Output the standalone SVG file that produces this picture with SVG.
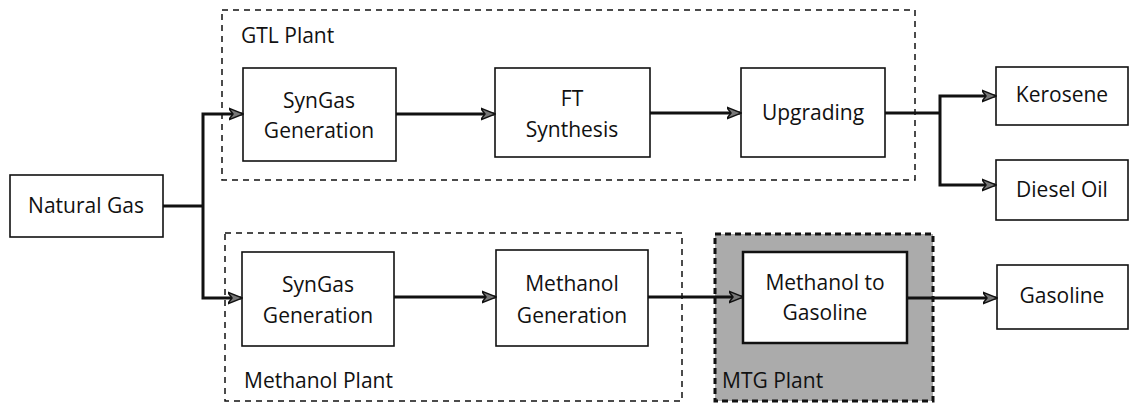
<svg xmlns="http://www.w3.org/2000/svg" width="1129" height="405" viewBox="0 0 1129 405">
<style>
.bg{fill:#fff}
.box{fill:#fff;stroke:#111;stroke-width:1.6}
.plant{fill:none;stroke:#111;stroke-width:1.5;stroke-dasharray:6,5}
.mtg{fill:#ababab;stroke:#111;stroke-width:3;stroke-dasharray:6,4}
.t{font-family:"Open Sans",Lato,sans-serif;font-size:21px;fill:#111;text-anchor:middle}
.lbl{font-family:"Open Sans",Lato,sans-serif;font-size:21px;fill:#111}
.c{fill:none;stroke:#111;stroke-width:3;marker-end:url(#ah)}
.cn{fill:none;stroke:#111;stroke-width:3}
</style>
<defs>
<marker id="ah" viewBox="0 0 10 10" refX="9" refY="5" markerWidth="5" markerHeight="5" orient="auto" markerUnits="strokeWidth">
<path d="M0,1 L10,5 L0,9 L3,5 Z" fill="#777" stroke="#111" stroke-width="1"/>
</marker>
</defs>
<rect class="bg" x="0" y="0" width="1129" height="405"/>
<g id="gtl-plant">
<rect class="plant" x="222" y="10" width="693" height="170"/>
<text class="lbl" x="241" y="43">GTL Plant</text>
</g>
<g id="methanol-plant">
<rect class="plant" x="225" y="233" width="457" height="168"/>
<text class="lbl" x="244" y="388">Methanol Plant</text>
</g>
<g id="mtg-plant">
<rect class="mtg" x="715" y="234" width="218" height="167"/>
<text class="lbl" x="722" y="388">MTG Plant</text>
</g>
<g id="natural-gas">
<rect class="box" x="10" y="175" width="153" height="62"/>
<text class="t" x="86" y="213">Natural Gas</text>
</g>
<g id="syngas-gtl">
<rect class="box" x="243" y="68" width="153" height="93"/>
<text class="t" x="319" y="108">SynGas</text>
<text class="t" x="319" y="138">Generation</text>
</g>
<g id="ft-synthesis">
<rect class="box" x="495" y="68" width="155" height="89"/>
<text class="t" x="572" y="106">FT</text>
<text class="t" x="572" y="137">Synthesis</text>
</g>
<g id="upgrading">
<rect class="box" x="741" y="68" width="144" height="89"/>
<text class="t" x="813" y="120">Upgrading</text>
</g>
<g id="kerosene">
<rect class="box" x="996" y="67" width="132" height="58"/>
<text class="t" x="1062" y="102">Kerosene</text>
</g>
<g id="diesel-oil">
<rect class="box" x="996" y="160" width="132" height="60"/>
<text class="t" x="1062" y="197">Diesel Oil</text>
</g>
<g id="syngas-methanol">
<rect class="box" x="242" y="252" width="152" height="94"/>
<text class="t" x="318" y="292">SynGas</text>
<text class="t" x="318" y="323">Generation</text>
</g>
<g id="methanol-generation">
<rect class="box" x="496" y="250" width="152" height="96"/>
<text class="t" x="572" y="291">Methanol</text>
<text class="t" x="572" y="323">Generation</text>
</g>
<g id="methanol-to-gasoline">
<rect class="box" x="743" y="252" width="164" height="91" style="stroke-width:2.5"/>
<text class="t" x="825" y="290">Methanol to</text>
<text class="t" x="825" y="320">Gasoline</text>
</g>
<g id="gasoline">
<rect class="box" x="997" y="265" width="131" height="64"/>
<text class="t" x="1062" y="303">Gasoline</text>
</g>
<g id="connectors">
<path class="cn" d="M163,206 H203"/>
<path class="c" d="M203,206 V114 H242"/>
<path class="c" d="M203,206 V298 H241"/>
<path class="c" d="M396,114 H494"/>
<path class="c" d="M650,113 H740"/>
<path class="cn" d="M885,113 H940"/>
<path class="c" d="M940,113 V96 H995"/>
<path class="c" d="M940,113 V185 H995"/>
<path class="c" d="M394,297 H495"/>
<path class="c" d="M648,297 H742"/>
<path class="c" d="M907,298 H996"/>
</g>
</svg>
